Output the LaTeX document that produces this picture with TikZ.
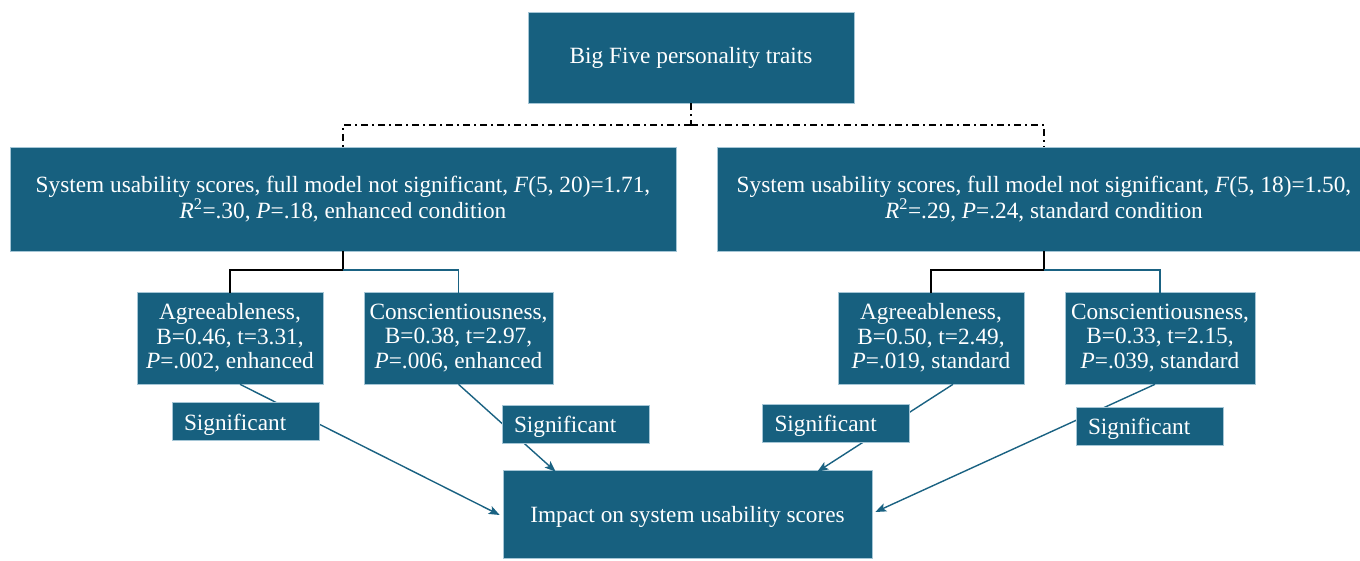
\documentclass[tikz,border=0pt]{standalone}
\usepackage{fontspec}
\setmainfont{Liberation Serif}
\usetikzlibrary{arrows.meta}
\definecolor{boxfill}{RGB}{23,96,127}
\definecolor{boxedge}{RGB}{165,198,214}
\definecolor{linkteal}{RGB}{26,98,130}
\begin{document}
\begin{tikzpicture}[x=1pt,y=-1pt,
  box/.style={rectangle, fill=boxfill, draw=boxedge, line width=0.6pt,
    text=white, align=center, inner sep=0pt,
    font=\fontsize{23.3}{24.5}\selectfont},
  sigbox/.style={box, align=left, text width=123pt, inner xsep=12pt,
    minimum height=38pt, text height=22pt, text depth=5pt},
  treelink/.style={line width=1.6pt},
  dashdot/.style={line width=1.7pt, dash pattern=on 7pt off 4pt on 2pt off 4pt},
  arrowlink/.style={linkteal, line width=1.4pt,
    -{Stealth[length=11pt,width=8.5pt,inset=2.5pt]}}]

\fill[white] (0,0) rectangle (1360,561);
\useasboundingbox (0,0) rectangle (1360,561);

% top and condition boxes
\node[box, minimum width=326pt, minimum height=91pt] (traits) at (691,57.5)
  {Big Five personality traits};
\node[box, minimum width=666pt, minimum height=104pt] (enh) at (343,199)
  {System usability scores, full model not significant, \textit{F}(5, 20)=1.71,\\
   \textit{R}\textsuperscript{2}=.30, \textit{P}=.18, enhanced condition};
\node[box, minimum width=654pt, minimum height=104pt] (std) at (1044,199)
  {System usability scores, full model not significant, \textit{F}(5, 18)=1.50,\\
   \textit{R}\textsuperscript{2}=.29, \textit{P}=.24, standard condition};

% predictor boxes
\node[box, minimum width=186pt, minimum height=92pt] (agrE) at (230,338)
  {Agreeableness,\\B=0.46, t=3.31,\\\textit{P}=.002, enhanced};
\node[box, minimum width=189pt, minimum height=92pt] (conE) at (458.5,338)
  {Conscientiousness,\\B=0.38, t=2.97,\\\textit{P}=.006, enhanced};
\node[box, minimum width=186pt, minimum height=92pt] (agrS) at (931,338)
  {Agreeableness,\\B=0.50, t=2.49,\\\textit{P}=.019, standard};
\node[box, minimum width=190pt, minimum height=92pt] (conS) at (1160,338)
  {Conscientiousness,\\B=0.33, t=2.15,\\\textit{P}=.039, standard};

% outcome box
\node[box, minimum width=369pt, minimum height=88pt, text height=22pt, text depth=5pt]
  (impact) at (687.5,514) {Impact on system usability scores};

% dash-dot split below the top box
\coordinate (split) at (691,125);
\draw[dashdot] (traits.south) -- (split);
\draw[dashdot] (split) -| (enh.north);
\draw[dashdot] (split) -| (std.north);

% solid splits below the condition boxes
\coordinate (forkE) at (343,270);
\coordinate (forkS) at (1044,270);
\draw[treelink, black] (enh.south) -- (forkE) -| ([yshift=-1pt]agrE.north);
\draw[treelink, linkteal] (forkE) -| ([yshift=-1pt]conE.north);
\draw[treelink, black] (std.south) -- (forkS) -| ([yshift=-1pt]agrS.north);
\draw[treelink, linkteal] (forkS) -| ([yshift=-1pt]conS.north);

% links from predictors to the outcome
\draw[arrowlink] ([xshift=10pt]agrE.south) -- ([xshift=-3pt,yshift=-1pt]impact.west);
\draw[arrowlink] (conE.south) -- ([xshift=53pt,yshift=-2pt]impact.north west);
\draw[arrowlink] ([xshift=22pt]agrS.south) -- ([xshift=-55pt,yshift=-2pt]impact.north east);
\draw[arrowlink] ([xshift=-5pt]conS.south) -- ([xshift=3pt,yshift=2pt]impact.east);

% labels placed over the links
\node[sigbox] (sig1) at (245.5,421.5) {Significant};
\node[sigbox] (sig2) at (575.5,424) {Significant};
\node[sigbox] (sig3) at (836,423) {Significant};
\node[sigbox] (sig4) at (1149.5,426) {Significant};
\end{tikzpicture}
\end{document}
